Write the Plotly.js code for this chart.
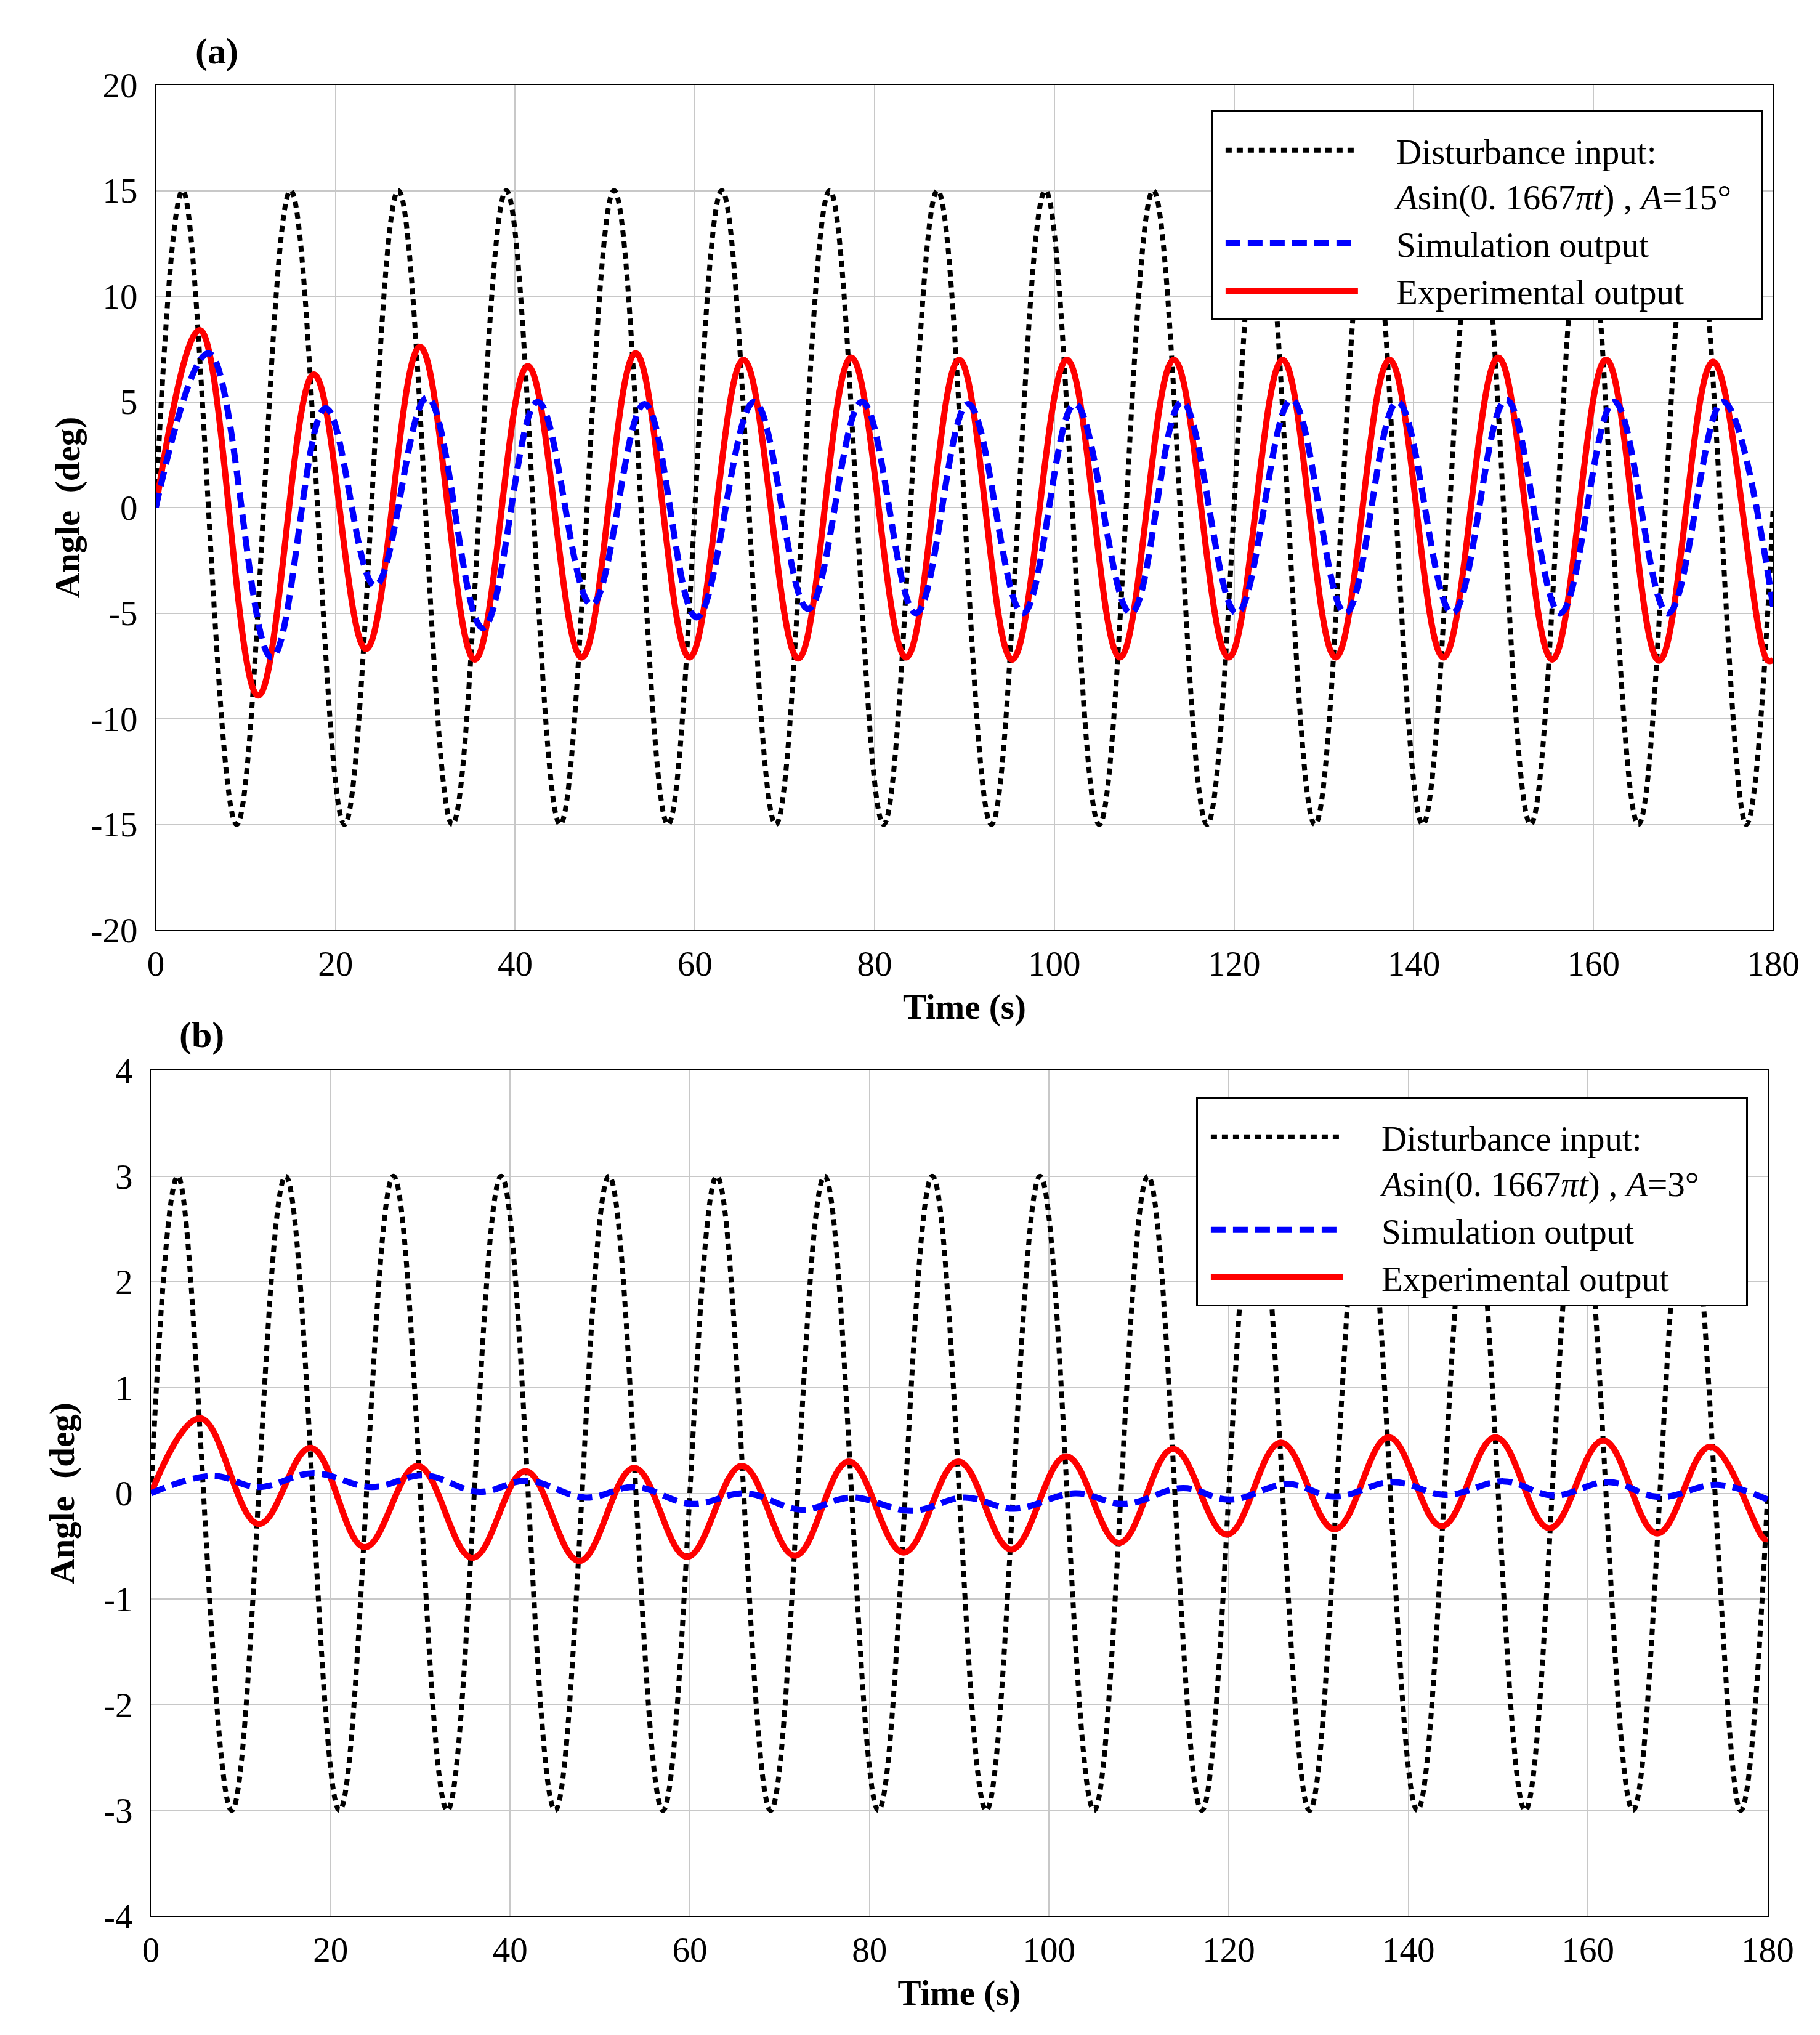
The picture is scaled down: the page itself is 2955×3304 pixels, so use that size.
<!DOCTYPE html>
<html><head><meta charset="utf-8">
<script src="https://cdn.plot.ly/plotly-3.0.1.min.js"></script>
<style>html,body{margin:0;padding:0;background:#fff}</style>
</head><body>
<div id="chart" style="width:2955px;height:3304px"></div>
<script>
// ---- data (extrema and end points) ----
const distT = [0, 3, 9, 15, 21, 27, 33, 39, 45, 51, 57, 63, 69, 75, 81, 87, 93, 99, 105, 111, 117, 123, 129, 135, 141, 147, 153, 159, 165, 171, 177, 180];
const distA = [0, 15, -15, 15, -15, 15, -15, 15, -15, 15, -15, 15, -15, 15, -15, 15, -15, 15, -15, 15, -15, 15, -15, 15, -15, 15, -15, 15, -15, 15, -15, 0];
const distB = [0, 3, -3, 3, -3, 3, -3, 3, -3, 3, -3, 3, -3, 3, -3, 3, -3, 3, -3, 3, -3, 3, -3, 3, -3, 3, -3, 3, -3, 3, -3, 0];

const expAT = [0, 4.9, 11.4, 17.6, 23.4, 29.4, 35.5, 41.4, 47.4, 53.4, 59.4, 65.4, 71.5, 77.4, 83.5, 89.4, 95.3, 101.4, 107.3, 113.3, 119.4, 125.4, 131.3, 137.3, 143.3, 149.4, 155.4, 161.4, 167.3, 173.3, 179.4, 180];
const expAV = [0, 8.4, -8.9, 6.3, -6.7, 7.6, -7.2, 6.7, -7.1, 7.3, -7.1, 7.0, -7.15, 7.1, -7.1, 7.0, -7.2, 7.0, -7.1, 7.0, -7.1, 7.0, -7.1, 7.0, -7.1, 7.1, -7.2, 7.0, -7.25, 6.9, -7.25, -7.2];

const simAT = [0, 5.9, 12.9, 18.9, 24.4, 30.2, 36.4, 42.5, 48.5, 54.4, 60.2, 66.6, 72.6, 78.6, 84.6, 90.4, 96.5, 102.3, 108.5, 114.2, 120.3, 126.4, 132.4, 138.2, 144.3, 150.3, 156.3, 162.3, 168.3, 174.4, 180];
const simAV = [0, 7.3, -7.1, 4.7, -3.7, 5.2, -5.7, 5.0, -4.6, 4.9, -5.2, 5.0, -4.8, 5.0, -5.0, 4.9, -5.0, 4.9, -5.0, 5.0, -5.0, 5.1, -5.0, 5.0, -5.0, 5.1, -5.0, 5.0, -5.0, 5.0, -4.7];

const expBT = [0, 5.5, 12.0, 17.8, 23.8, 29.7, 35.8, 41.7, 47.7, 53.8, 59.7, 65.8, 71.7, 77.7, 83.8, 89.9, 95.8, 101.9, 107.8, 113.8, 119.8, 125.8, 131.8, 137.8, 143.7, 149.7, 155.7, 161.7, 167.7, 173.6, 179.6, 180];
const expBV = [0, 0.71, -0.29, 0.43, -0.51, 0.26, -0.61, 0.21, -0.64, 0.24, -0.60, 0.26, -0.59, 0.30, -0.56, 0.30, -0.53, 0.35, -0.47, 0.42, -0.39, 0.48, -0.34, 0.53, -0.31, 0.53, -0.33, 0.50, -0.38, 0.44, -0.43, -0.43];

const simBT = [0, 6.8, 12.0, 18.1, 24.6, 30.4, 36.6, 41.9, 48.4, 53.9, 60.2, 66.2, 72.5, 78.0, 84.7, 90.6, 96.1, 102.9, 108.4, 114.9, 120.1, 126.6, 131.8, 138.3, 144.2, 150.6, 156.2, 162.3, 167.9, 174.4, 180];
const simBV = [0, 0.165, 0.06, 0.19, 0.06, 0.17, 0.015, 0.12, -0.04, 0.06, -0.10, 0.0, -0.155, -0.04, -0.165, -0.04, -0.146, 0.0, -0.10, 0.05, -0.06, 0.087, -0.03, 0.107, -0.015, 0.113, -0.02, 0.107, -0.035, 0.08, -0.06];

const xTicks = [0, 20, 40, 60, 80, 100, 120, 140, 160, 180];
const xTickText = ['0', '20', '40', '60', '80', '100', '120', '140', '160', '180'];
const yTicksA = [-20, -15, -10, -5, 0, 5, 10, 15, 20];
const yTickTextA = ['-20', '-15', '-10', '-5', '0', '5', '10', '15', '20'];
const yTicksB = [-4, -3, -2, -1, 0, 1, 2, 3, 4];
const yTickTextB = ['-4', '-3', '-2', '-1', '0', '1', '2', '3', '4'];

const SP = '\u00A0\u00A0\u00A0\u00A0';
const TR = '\u00A0\u00A0\u00A0';
const nameDistA = SP + 'Disturbance input:<br>' + SP + '<i>A</i>sin(0. 1667<i>πt</i>) , <i>A</i>=15°' + TR;
const nameDistB = SP + 'Disturbance input:<br>' + SP + '<i>A</i>sin(0. 1667<i>πt</i>) , <i>A</i>=3°' + TR + '\u00A0\u00A0';
const nameSim = SP + 'Simulation output';
const nameExp = SP + 'Experimental output';

// ---- styling ----
const FONT = 'Liberation Serif, Times New Roman, serif';
const FS = 57;
const blackLine = {color: '#000000', width: 8, dash: '10px,8px', shape: 'spline', smoothing: 1.1};
const redLine = {color: '#FF0000', width: 10, shape: 'spline', smoothing: 1.1};
const blueLine = {color: '#0000FF', width: 10, dash: '24px,12px', shape: 'spline', smoothing: 1.1};

function mk(x, y, name, line, xa, ya, leg, rank) {
  return {x: x, y: y, name: name, type: 'scatter', mode: 'lines', line: line,
          xaxis: xa, yaxis: ya, legend: leg, legendrank: rank, hoverinfo: 'skip'};
}

const traces = [
  mk(distT, distA, nameDistA, blackLine, 'x', 'y', 'legend', 1),
  mk(expAT, expAV, nameExp, redLine, 'x', 'y', 'legend', 3),
  mk(simAT, simAV, nameSim, blueLine, 'x', 'y', 'legend', 2),
  mk(distT, distB, nameDistB, blackLine, 'x2', 'y2', 'legend2', 1),
  mk(expBT, expBV, nameExp, redLine, 'x2', 'y2', 'legend2', 3),
  mk(simBT, simBV, nameSim, blueLine, 'x2', 'y2', 'legend2', 2)
];

function xAxis(domain, anchor) {
  return {domain: domain, anchor: anchor, range: [0, 180], tickmode: 'array', tickvals: xTicks, ticktext: xTickText,
    showgrid: true, gridcolor: '#C8C8C8', gridwidth: 2, zeroline: false,
    showline: true, linecolor: '#000000', linewidth: 2, mirror: true, ticks: '',
    ticklabelstandoff: 4,
    tickfont: {family: FONT, size: FS, color: '#000'},
    title: {text: '<b>Time (s)</b>', standoff: 19, font: {family: FONT, size: FS, color: '#000'}}};
}
function yAxis(domain, anchor, range, ticks, text, standoff) {
  return {domain: domain, anchor: anchor, range: range, tickmode: 'array', tickvals: ticks, ticktext: text,
    showgrid: true, gridcolor: '#C8C8C8', gridwidth: 2, zeroline: false,
    showline: true, linecolor: '#000000', linewidth: 2, mirror: true, ticks: '',
    ticklabelstandoff: 16,
    tickfont: {family: FONT, size: FS, color: '#000'},
    title: {text: '<b>Angle  (deg)</b>', standoff: standoff, font: {family: FONT, size: FS, color: '#000'}}};
}
function leg(x, y) {
  return {x: x, y: y, xanchor: 'right', yanchor: 'top', bgcolor: '#FFFFFF', bordercolor: '#000000',
    borderwidth: 3, font: {family: FONT, size: FS, color: '#000'}, itemwidth: 215, valign: 'top',
    indentation: 16, tracegroupgap: 0, traceorder: 'normal',
    title: {text: '\u00A0', font: {family: FONT, size: 14, color: '#000'}}};
}

const layout = {
  width: 2955, height: 3304,
  margin: {l: 245, r: 76, t: 138, b: 193},
  paper_bgcolor: '#FFFFFF', plot_bgcolor: '#FFFFFF',
  font: {family: FONT, size: FS, color: '#000'},
  showlegend: true,
  xaxis: xAxis([0.003, 1.0], 'y'),
  yaxis: yAxis([0.5385, 1.0], 'x', [-20, 20], yTicksA, yTickTextA, 0),
  xaxis2: xAxis([0.0, 0.9966], 'y2'),
  yaxis2: yAxis([0.0, 0.4618], 'x2', [-4, 4], yTicksB, yTickTextB, 29),
  legend: leg(0.9935, 0.9862),
  legend2: leg(0.9844, 0.4474),
  annotations: [
    {text: '<b>(a)</b>', xref: 'paper', yref: 'paper', x: 0.0406, y: 1.0185, xanchor: 'center', yanchor: 'middle',
     showarrow: false, font: {family: FONT, size: 60, color: '#000'}},
    {text: '<b>(b)</b>', xref: 'paper', yref: 'paper', x: 0.0315, y: 0.4813, xanchor: 'center', yanchor: 'middle',
     showarrow: false, font: {family: FONT, size: 60, color: '#000'}}
  ]
};

Plotly.newPlot('chart', traces, layout, {displayModeBar: false, staticPlot: true});
</script>
</body></html>
